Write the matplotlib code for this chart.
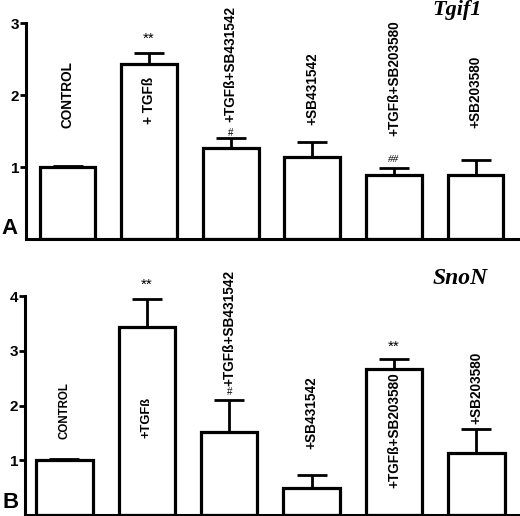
import matplotlib
matplotlib.use("Agg")
import matplotlib.pyplot as plt
import numpy as np

plt.rcParams['font.family'] = ['Liberation Sans', 'DejaVu Sans']

# panel A - Tgif1
labels_a = ["CONTROL", "+ TGFß", "+TGFß+SB431542", "+SB431542", "+TGFß+SB203580", "+SB203580"]
vals_a = [1.00, 2.43, 1.26, 1.14, 0.89, 0.89]
err_a = [0.01, 0.15, 0.14, 0.21, 0.10, 0.21]
lab_y_a = [1.54, 1.60, 1.62, 1.58, 1.43, 1.54]
lab_fs_a = [9.8, 9.8, 9.8, 9.8, 9.8, 9.8]

# panel B - SnoN
labels_b = ["CONTROL", "+TGFß", "+TGFß+SB431542", "+SB431542", "+TGFß+SB203580", "+SB203580"]
vals_b = [1.00, 3.44, 1.52, 0.49, 2.67, 1.13]
err_b = [0.03, 0.51, 0.58, 0.24, 0.18, 0.44]
lab_y_b = [1.39, 1.40, 2.36, 1.20, 0.49, 1.66]
lab_fs_b = [8.3, 9.3, 9.8, 9.8, 9.8, 9.8]

fig = plt.figure(figsize=(5.2, 5.16), dpi=100)
ax_a = fig.add_axes([0.05, 0.537, 0.95, 0.418])
ax_b = fig.add_axes([0.048, 0.002, 0.952, 0.424])


def draw(ax, vals, err, labels, lab_y, lab_fs, ymax, xlim):
    x = np.arange(len(vals))
    ax.errorbar(x, vals, yerr=[np.zeros(len(err)), err], fmt='none', ecolor='black',
                elinewidth=2, capsize=11, capthick=2, zorder=1)
    ax.bar(x, vals, width=0.685, color='white', edgecolor='black', linewidth=2.3, zorder=2)
    for xi, lab, ly, fs in zip(x, labels, lab_y, lab_fs):
        ax.text(xi, ly, lab, rotation=90, ha='center', va='bottom', fontsize=fs,
                fontweight='bold', zorder=3)
    ax.set_xlim(*xlim)
    ax.set_ylim(0, ymax)
    ax.set_yticks(range(1, ymax + 1))
    ax.set_xticks([])
    for s in ['top', 'right']:
        ax.spines[s].set_visible(False)
    ax.spines['left'].set_linewidth(2.2)
    ax.spines['bottom'].set_linewidth(2.2)
    ax.tick_params(axis='y', direction='out', length=4, width=2, labelsize=11, pad=1)
    for t in ax.get_yticklabels():
        t.set_fontweight('bold')


draw(ax_a, vals_a, err_a, labels_a, lab_y_a, lab_fs_a, 3, (-0.509, 5.545))
draw(ax_b, vals_b, err_b, labels_b, lab_y_b, lab_fs_b, 4, (-0.48, 5.53))

ax_a.text(1, 2.78, "**", ha='center', va='center', fontsize=11)
ax_a.text(2, 1.47, "#", ha='center', va='center', fontsize=7)
ax_a.text(4, 1.11, "##", ha='center', va='center', fontsize=8, family='Liberation Serif',
          style='italic')
ax_a.text(4.77, 3.18, "Tgif1", ha='center', va='center', fontsize=16, family='Liberation Serif',
          style='italic', fontweight='bold', clip_on=False)

ax_b.text(1, 4.2, "**", ha='center', va='center', fontsize=11, clip_on=False)
ax_b.text(2, 2.25, "#", ha='center', va='center', fontsize=7)
ax_b.text(4, 3.08, "**", ha='center', va='center', fontsize=11)
ax_b.text(4.8, 4.33, "SnoN", ha='center', va='center', fontsize=17, family='Liberation Serif',
          style='italic', fontweight='bold', clip_on=False)

fig.text(0.002, 0.537, "A", fontsize=16, fontweight='bold', ha='left', va='bottom')
fig.text(0.004, 0.006, "B", fontsize=16, fontweight='bold', ha='left', va='bottom')

fig.savefig("out.png", dpi=100)
